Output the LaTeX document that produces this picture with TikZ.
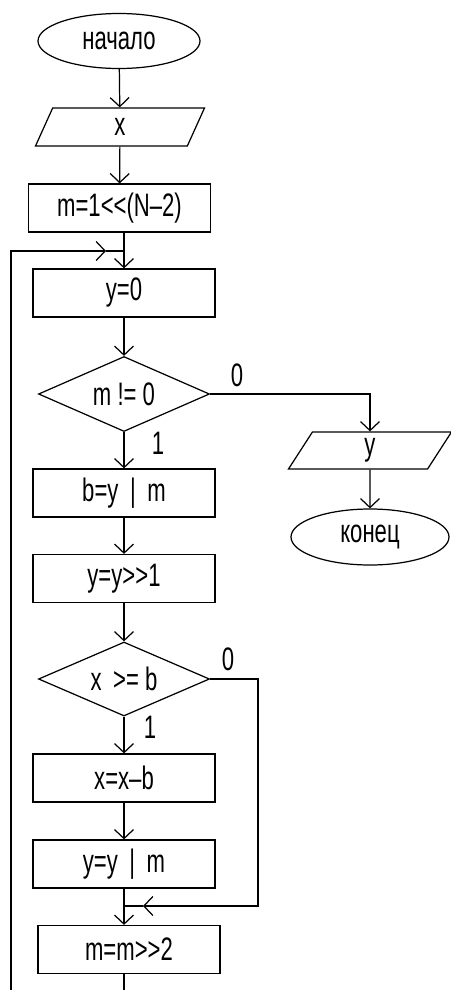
\documentclass[tikz,border=0pt]{standalone}
\usepackage{fontspec}
\setmainfont{Liberation Sans}[FakeStretch=0.68]
\usetikzlibrary{shapes.geometric, arrows.meta, positioning}

\begin{document}
\begin{tikzpicture}[
        font=\fontsize{18.5}{21}\selectfont,
        line width=0.7pt,
        % --- STYLE ---
        termnode/.style={ellipse, draw, inner sep=0pt},
        procnode/.style={rectangle, draw, minimum width=3.64cm, minimum height=0.96cm, inner sep=0pt},
        ionode/.style={trapezium, trapezium left angle=45, trapezium right angle=135, trapezium stretches body, draw, minimum height=0.76cm, inner sep=0pt},
        condnode/.style={diamond, draw, aspect=2.3, minimum width=3.42cm, minimum height=1.5cm, inner sep=0pt},
        flow/.style={-{Straight Barb[length=0.18cm, width=0.38cm]}},
        branchlbl/.style={inner sep=0pt}
    ]
        \useasboundingbox (0,0) rectangle (9,-19.8);

        % ==========================================
        % ВВОД И ИНИЦИАЛИЗАЦИЯ
        % ==========================================
        \node[termnode, minimum width=3.24cm, minimum height=1.1cm] (start) at (2.38,-0.82) {начало};
        \node[ionode, minimum width=3.38cm] (inx) at (2.40,-2.54) {x};
        \node[procnode] (init) at (2.39,-4.16) {m=1<{}<(N–2)};

        \draw[flow] (start) -- (inx);
        \draw[flow] (inx) -- (init);

        % ==========================================
        % ЦИКЛ ПО m
        % ==========================================
        \node[procnode] (yzero) at (2.48,-5.86) {y=0};
        \node[condnode] (mcheck) at (2.48,-7.88) {m != 0};
        \node[procnode] (bcalc) at (2.48,-9.86) {b=y \,|\, m};
        \node[procnode] (yshr) at (2.48,-11.57) {y=y>{}>1};
        \node[condnode, minimum height=1.48cm] (xcheck) at (2.48,-13.58) {x \,>= b};
        \node[procnode] (xsub) at (2.48,-15.56) {x=x–b};
        \node[procnode] (yor) at (2.48,-17.28) {y=y \,|\, m};
        \node[procnode] (mshr) at (2.58,-18.99) {m=m>{}>2};

        % выход
        \node[ionode, minimum width=3.26cm, minimum height=0.74cm] (outy) at (7.40,-9.01) {y};
        \node[termnode, minimum width=3.16cm, minimum height=1.12cm] (stop) at (7.40,-10.74) {конец};

        % метки ветвей
        \node[branchlbl] (mzero) at (4.74,-7.50) {0};
        \node[branchlbl] (mone) at (3.16,-8.86) {1};
        \node[branchlbl] (xzero) at (4.56,-13.18) {0};
        \node[branchlbl] (xone) at (3.00,-14.54) {1};

        % точки соединения линий
        \coordinate (join1) at (2.48,-5.02);
        \coordinate (looptip) at (2.12,-5.02);
        \coordinate (looptop) at (0.22,-5.02);
        \coordinate (loopbot) at (0.22,-19.8);
        \coordinate (mainbot) at (2.48,-19.8);
        \coordinate (join2) at (2.48,-18.12);
        \coordinate (skiptip) at (2.86,-18.12);
        \coordinate (skipcorner) at (5.16,-18.12);

        \draw (init.south -| join1) -- (join1);
        \draw[flow] (join1) -- (yzero);
        \draw[flow] (loopbot) -- (looptop) -- (looptip);
        \draw (looptip) -- (join1);

        \draw[flow] (yzero) -- (mcheck);
        \draw[flow] (mcheck.east) -| (outy.north);
        \draw[flow] (outy) -- (stop);
        \draw[flow] (mcheck) -- (bcalc);
        \draw[flow] (bcalc) -- (yshr);
        \draw[flow] (yshr) -- (xcheck);
        \draw[flow] (xcheck) -- (xsub);
        \draw[flow] (xsub) -- (yor);

        \draw[flow] (xcheck.east) -| (skipcorner) -- (skiptip);
        \draw (skiptip) -- (join2);
        \draw (yor) -- (join2);
        \draw[flow] (join2) -- (mshr.north -| join2);
        \draw (mshr.south -| mainbot) -- (mainbot);

    \end{tikzpicture}
\end{document}
